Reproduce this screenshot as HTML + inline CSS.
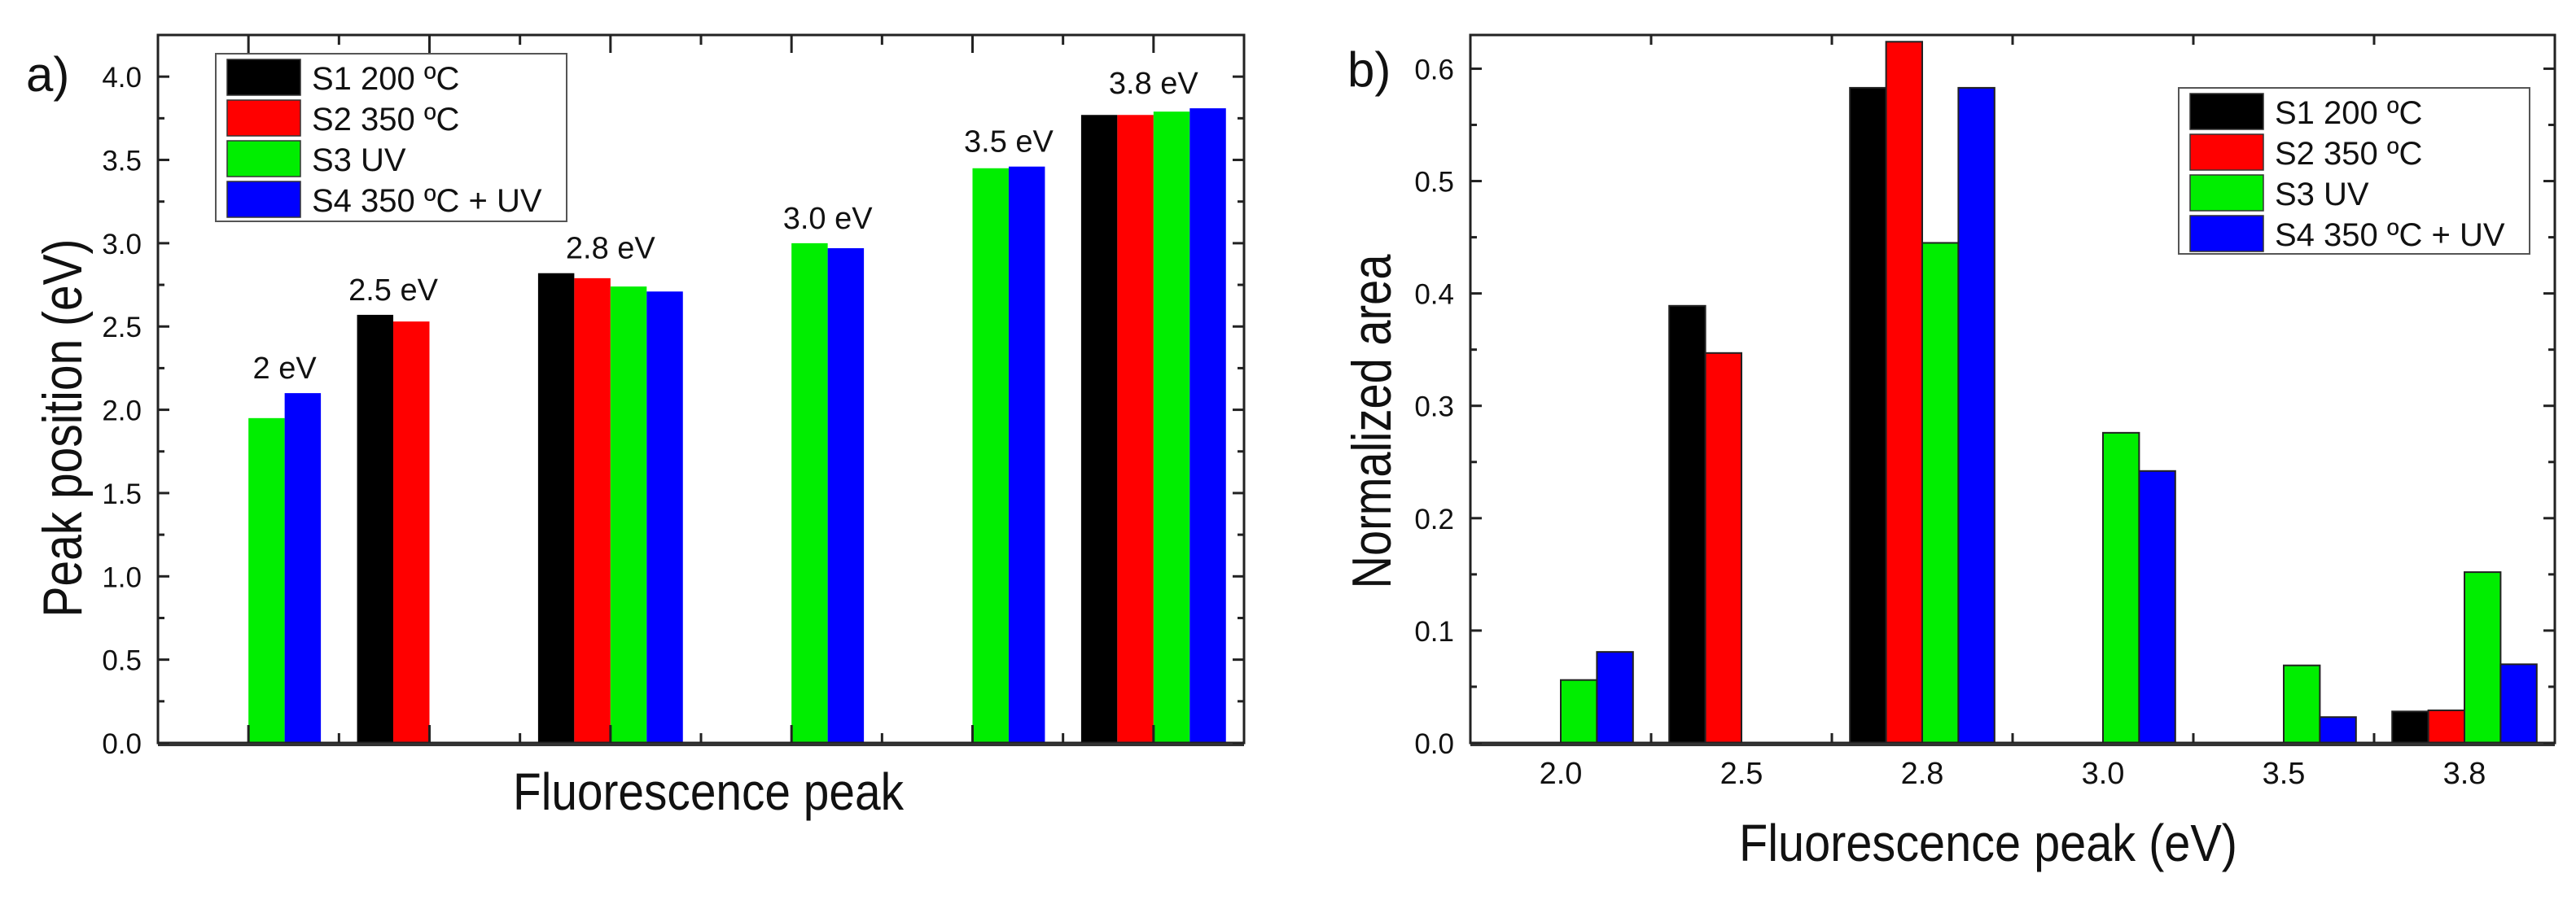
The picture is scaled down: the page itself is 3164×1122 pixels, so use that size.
<!DOCTYPE html>
<html><head><meta charset="utf-8"><style>
html,body{margin:0;padding:0;background:#fff;}
svg{display:block;font-family:"Liberation Sans",sans-serif;}
</style></head><body>
<svg id="fig" width="3164" height="1122" viewBox="0 0 3164 1122" xmlns="http://www.w3.org/2000/svg">
<rect width="3164" height="1122" fill="#fff"/>
</svg>
<script>
const NS='http://www.w3.org/2000/svg';
const svg=document.getElementById('fig');
const seriesNames=['S1 200 ºC','S2 350 ºC','S3 UV','S4 350 ºC + UV'];
const seriesColors=['#000000','#ff0000','#00ee00','#0000ff'];
const catLabelsA=['2 eV','2.5 eV','2.8 eV','3.0 eV','3.5 eV','3.8 eV'];
const aS1=[null,2.57,2.82,null,null,3.77];
const aS2=[null,2.53,2.79,null,null,3.77];
const aS3=[1.95,null,2.74,3.00,3.45,3.79];
const aS4=[2.10,null,2.71,2.97,3.46,3.81];
const aTicks=[0,0.5,1.0,1.5,2.0,2.5,3.0,3.5,4.0];
const catLabelsB=['2.0','2.5','2.8','3.0','3.5','3.8'];
const bS1=[null,0.389,0.583,null,null,0.028];
const bS2=[null,0.347,0.624,null,null,0.029];
const bS3=[0.056,null,0.445,0.276,0.069,0.152];
const bS4=[0.081,null,0.583,0.242,0.023,0.070];
const bTicks=[0,0.1,0.2,0.3,0.4,0.5,0.6];

function el(tag,attrs,parent){const e=document.createElementNS(NS,tag);for(const k in attrs)e.setAttribute(k,attrs[k]);(parent||svg).appendChild(e);return e;}
function txt(s,attrs,parent){const e=el('text',attrs,parent);e.textContent=s;return e;}

function panel(p){
  const g=el('g',{});
  
  
  const {L,R,T,B,ymax}=p;
  const y=v=>B-v/ymax*(B-T);
  const n=p.cats.length, band=(R-L)/n, bw=band*0.2;
  const x=(i,s)=>L+i*band+band*0.1+s*bw;
  const series=p.series;
  for(let i=0;i<n;i++){
    let top=Infinity,xmin=Infinity,xmax=-Infinity;
    for(let s=0;s<4;s++){
      const v=series[s][i]; if(v==null)continue;
      const r=el('rect',{x:x(i,s),y:y(v),width:bw,height:B-y(v),fill:seriesColors[s],stroke:p.outline?'#222':'none','stroke-width':p.outline?2:0},g);
      
      
      top=Math.min(top,y(v));xmin=Math.min(xmin,x(i,s));xmax=Math.max(xmax,x(i,s)+bw);
    }
    if(p.groupLabels){
      const t=txt(p.cats[i],{x:(xmin+xmax)/2,y:top-18,'font-size':38,'text-anchor':'middle',fill:'#111'},g);
      
      
    } else {
      const t=txt(p.cats[i],{x:L+(i+0.5)*band,y:B+50,'font-size':38,'text-anchor':'middle',fill:'#111'},g);
      
      
    }
  }
  el('rect',{x:L,y:T,width:R-L,height:B-T,fill:'none',stroke:'#222','stroke-width':3},g);
  el('line',{x1:L,y1:B+2,x2:R,y2:B+2,stroke:'#333','stroke-width':4},g);
  const minorStep=p.minor;
  for(let v=0;v<=ymax+1e-9;v+=minorStep){
    const yy=y(v), major=Math.abs(v/p.major-Math.round(v/p.major))<1e-6;
    const len=major?14:8;
    el('line',{x1:L,y1:yy,x2:L+len,y2:yy,stroke:'#222','stroke-width':3},g);
    el('line',{x1:R,y1:yy,x2:R-len,y2:yy,stroke:'#222','stroke-width':3},g);
  }
  p.ticks.forEach(v=>{
    const t=txt(v.toFixed(1),{x:L-20,y:y(v)+13,'font-size':35,'text-anchor':'end',fill:'#111'},g);
    
    
  });
  for(let i=0;i<=n*2;i++){
    const xx=L+i*band/2, center=i%2==1;
    if(!p.centerTicks&&center)continue;
    if(i==0||i==n*2)continue;
    const len=center?22:12;
    el('line',{x1:xx,y1:B,x2:xx,y2:B-len,stroke:'#222','stroke-width':3},g);
    el('line',{x1:xx,y1:T,x2:xx,y2:T+len,stroke:'#222','stroke-width':3},g);
  }
  const yt=txt(p.ylabel,{x:0,y:0,'font-size':68,'text-anchor':'middle',textLength:p.ylen,lengthAdjust:'spacingAndGlyphs',fill:'#111',transform:`translate(${p.ylx},${p.ylcy}) rotate(-90)`},g);
  
  
  const xt=txt(p.xlabel,{x:p.xlcx,y:p.xly,'font-size':64,'text-anchor':'middle',textLength:p.xlen,lengthAdjust:'spacingAndGlyphs',fill:'#111'},g);
  
  
  const pl=txt(p.letter,{x:p.letX,y:p.letY,'font-size':60,fill:'#111'},g);
  
  
  const lg=el('g',{},g);
  
  
  el('rect',{x:p.lx,y:p.ly,width:p.lw,height:p.lh,fill:'#fff',stroke:'#555','stroke-width':2},lg);
  for(let s=0;s<4;s++){
    const ry=p.ly+7+s*50;
    const e=el('g',{},lg);
    
    
    el('rect',{x:p.lx+14,y:ry,width:90,height:44,fill:seriesColors[s],stroke:'#333','stroke-width':1.5},e);
    txt(seriesNames[s],{x:p.lx+118,y:ry+37,'font-size':40,fill:'#111'},e);
  }
}
panel({name:'panel-a-chart',key:'a',L:194,R:1528,T:43,B:913,ymax:4.25,cats:catLabelsA,series:[aS1,aS2,aS3,aS4],
  groupLabels:true,outline:false,major:0.5,minor:0.25,ticks:aTicks,centerTicks:true,
  ylabel:'Peak position (eV)',ylx:100,ylcy:526,ylen:465,xlabel:'Fluorescence peak',xlcx:870,xly:995,xlen:480,letter:'a)',letX:32,letY:112,
  lx:265,ly:66,lw:431,lh:206});
panel({name:'panel-b-chart',key:'b',L:1806,R:3138,T:43,B:913,ymax:0.63,cats:catLabelsB,series:[bS1,bS2,bS3,bS4],
  groupLabels:false,outline:true,major:0.1,minor:0.05,ticks:bTicks,centerTicks:false,
  ylabel:'Normalized area',ylx:1708,ylcy:518,ylen:411,xlabel:'Fluorescence peak (eV)',xlcx:2442,xly:1058,xlen:612,letter:'b)',letX:1655,letY:106,
  lx:2676,ly:108,lw:431,lh:204});
</script>
</body></html>
